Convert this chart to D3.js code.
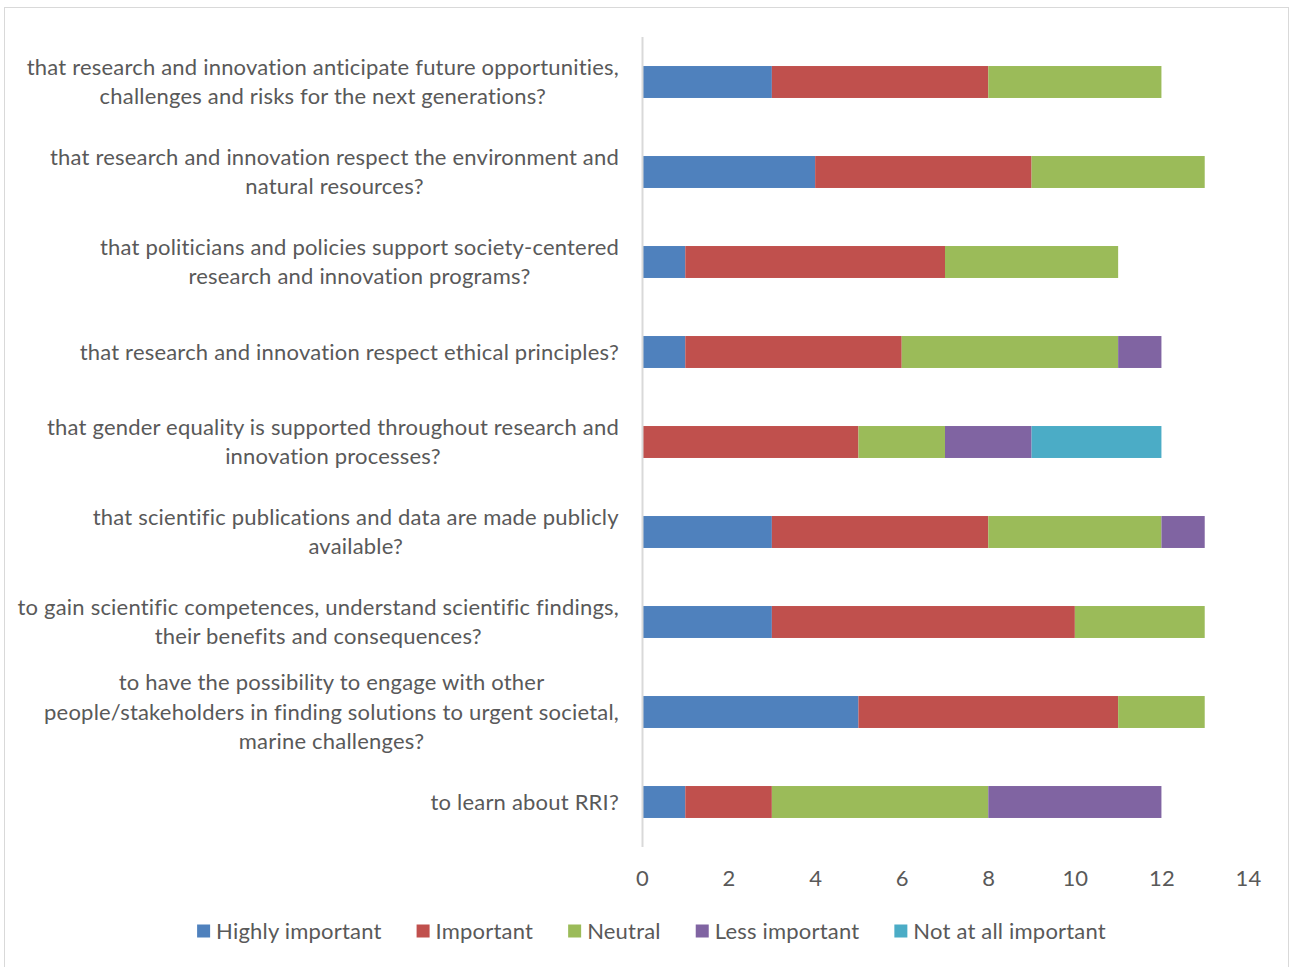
<!DOCTYPE html>
<html>
<head>
<meta charset="utf-8">
<script src="https://cdn.jsdelivr.net/npm/d3@7"></script>
<style>
  html, body { margin: 0; padding: 0; background: #fff; }
  svg { display: block; }
  text { font-family: Lato, "Open Sans", sans-serif; fill: #595959; letter-spacing: 0.2px; }
</style>
</head>
<body>
<svg id="chart" width="1290" height="967"></svg>
<script>
// Survey questions (each entry holds its wrapped lines)
const questions = [
  ["that research and innovation anticipate future opportunities,", "challenges and risks for the next generations?"],
  ["that research and innovation respect the environment and", "natural resources?"],
  ["that politicians and policies support society-centered", "research and innovation programs?"],
  ["that research and innovation respect ethical principles?"],
  ["that gender equality is supported throughout research and", "innovation processes?"],
  ["that scientific publications and data are made publicly", "available?"],
  ["to gain scientific competences, understand scientific findings,", "their benefits and consequences?"],
  ["to have the possibility to engage with other", "people/stakeholders in finding solutions to urgent societal,", "marine challenges?"],
  ["to learn about RRI?"]
];

const seriesNames = ["Highly important", "Important", "Neutral", "Less important", "Not at all important"];
const seriesColors = ["#4F81BD", "#C0504D", "#9BBB59", "#8064A2", "#4BACC6"];

// Number of respondents per answer, one array per series (in question order)
const highlyImportant = [3, 4, 1, 1, 0, 3, 3, 5, 1];
const important       = [5, 5, 6, 5, 5, 5, 7, 6, 2];
const neutral         = [4, 4, 4, 5, 2, 4, 3, 2, 5];
const lessImportant   = [0, 0, 0, 1, 2, 1, 0, 0, 4];
const notAtAll        = [0, 0, 0, 0, 3, 0, 0, 0, 0];

const xTicks = [0, 2, 4, 6, 8, 10, 12, 14];

const seriesValues = [highlyImportant, important, neutral, lessImportant, notAtAll];
const rows = questions.map((q, i) => {
  const r = { id: i };
  seriesNames.forEach((s, k) => { r[s] = seriesValues[k][i]; });
  return r;
});

const svg = d3.select("#chart");
const W = 1290, H = 967;
const FS = 22;

// outer chart frame
svg.append("rect")
  .attr("x", 4.5).attr("y", 7.5)
  .attr("width", 1284).attr("height", H + 10)
  .attr("fill", "#fff").attr("stroke", "#d9d9d9").attr("stroke-width", 1);

const plot = { left: 642, right: 1248, top: 37, bottom: 847 };

const x = d3.scaleLinear().domain([0, 14]).range([plot.left, plot.right]);
const y = d3.scaleBand().domain(rows.map(r => r.id))
  .range([plot.top, plot.bottom]).paddingInner(0.645).paddingOuter(0.3225);

const stack = d3.stack().keys(seriesNames);
const layers = stack(rows);

svg.append("g").selectAll("g")
  .data(layers)
  .join("g")
  .attr("fill", (d, i) => seriesColors[i])
  .selectAll("rect")
  .data(d => d.filter(p => p[1] > p[0]))
  .join("rect")
  .attr("x", d => x(d[0]))
  .attr("width", d => x(d[1]) - x(d[0]))
  .attr("y", d => y(d.data.id))
  .attr("height", y.bandwidth());

// vertical category axis line
svg.append("line")
  .attr("x1", plot.left + 0.5).attr("x2", plot.left + 0.5)
  .attr("y1", plot.top).attr("y2", plot.bottom)
  .attr("stroke", "#d9d9d9").attr("stroke-width", 2);

// value axis labels (no line, no ticks)
const xAxis = svg.append("g")
  .attr("transform", `translate(0,${plot.bottom})`)
  .call(d3.axisBottom(x).tickValues(xTicks).tickSize(0).tickPadding(23));
xAxis.select(".domain").remove();
xAxis.selectAll("text")
  .attr("font-size", FS).style("font-family", "Lato, 'Open Sans', sans-serif")
  .attr("fill", "#595959");

// category labels: each block centred on itself, right-aligned against the axis
const labelRight = 619;
const lineH = 29.5;
const labelG = svg.append("g");
questions.forEach((lines, i) => {
  const g = labelG.append("g");
  const cy = y(i) + y.bandwidth() / 2;
  const t = g.append("text")
    .attr("font-size", FS)
    .attr("text-anchor", "middle");
  lines.forEach((ln, j) => {
    t.append("tspan")
      .attr("x", 0)
      .attr("y", cy + (j - (lines.length - 1) / 2) * lineH)
      .attr("dy", "0.35em")
      .text(ln);
  });
  const w = t.node().getBBox().width;
  t.attr("transform", `translate(${labelRight - w / 2},0)`);
});

// legend
const legend = svg.append("g");
const legY = 931;
const items = legend.selectAll("g").data(seriesNames).join("g");
items.append("rect")
  .attr("width", 13).attr("height", 13)
  .attr("y", legY - 6.5)
  .attr("fill", (d, i) => seriesColors[i]);
items.append("text")
  .attr("x", 19).attr("y", legY).attr("dy", "0.35em")
  .attr("font-size", FS)
  .text(d => d);
let cx = 0;
const gap = 35;
items.each(function () {
  const w = this.getBBox().width;
  d3.select(this).attr("transform", `translate(${cx},0)`);
  cx += w + gap;
});
const totalW = cx - gap;
legend.attr("transform", `translate(${651.5 - totalW / 2},0)`);
</script>
</body>
</html>
